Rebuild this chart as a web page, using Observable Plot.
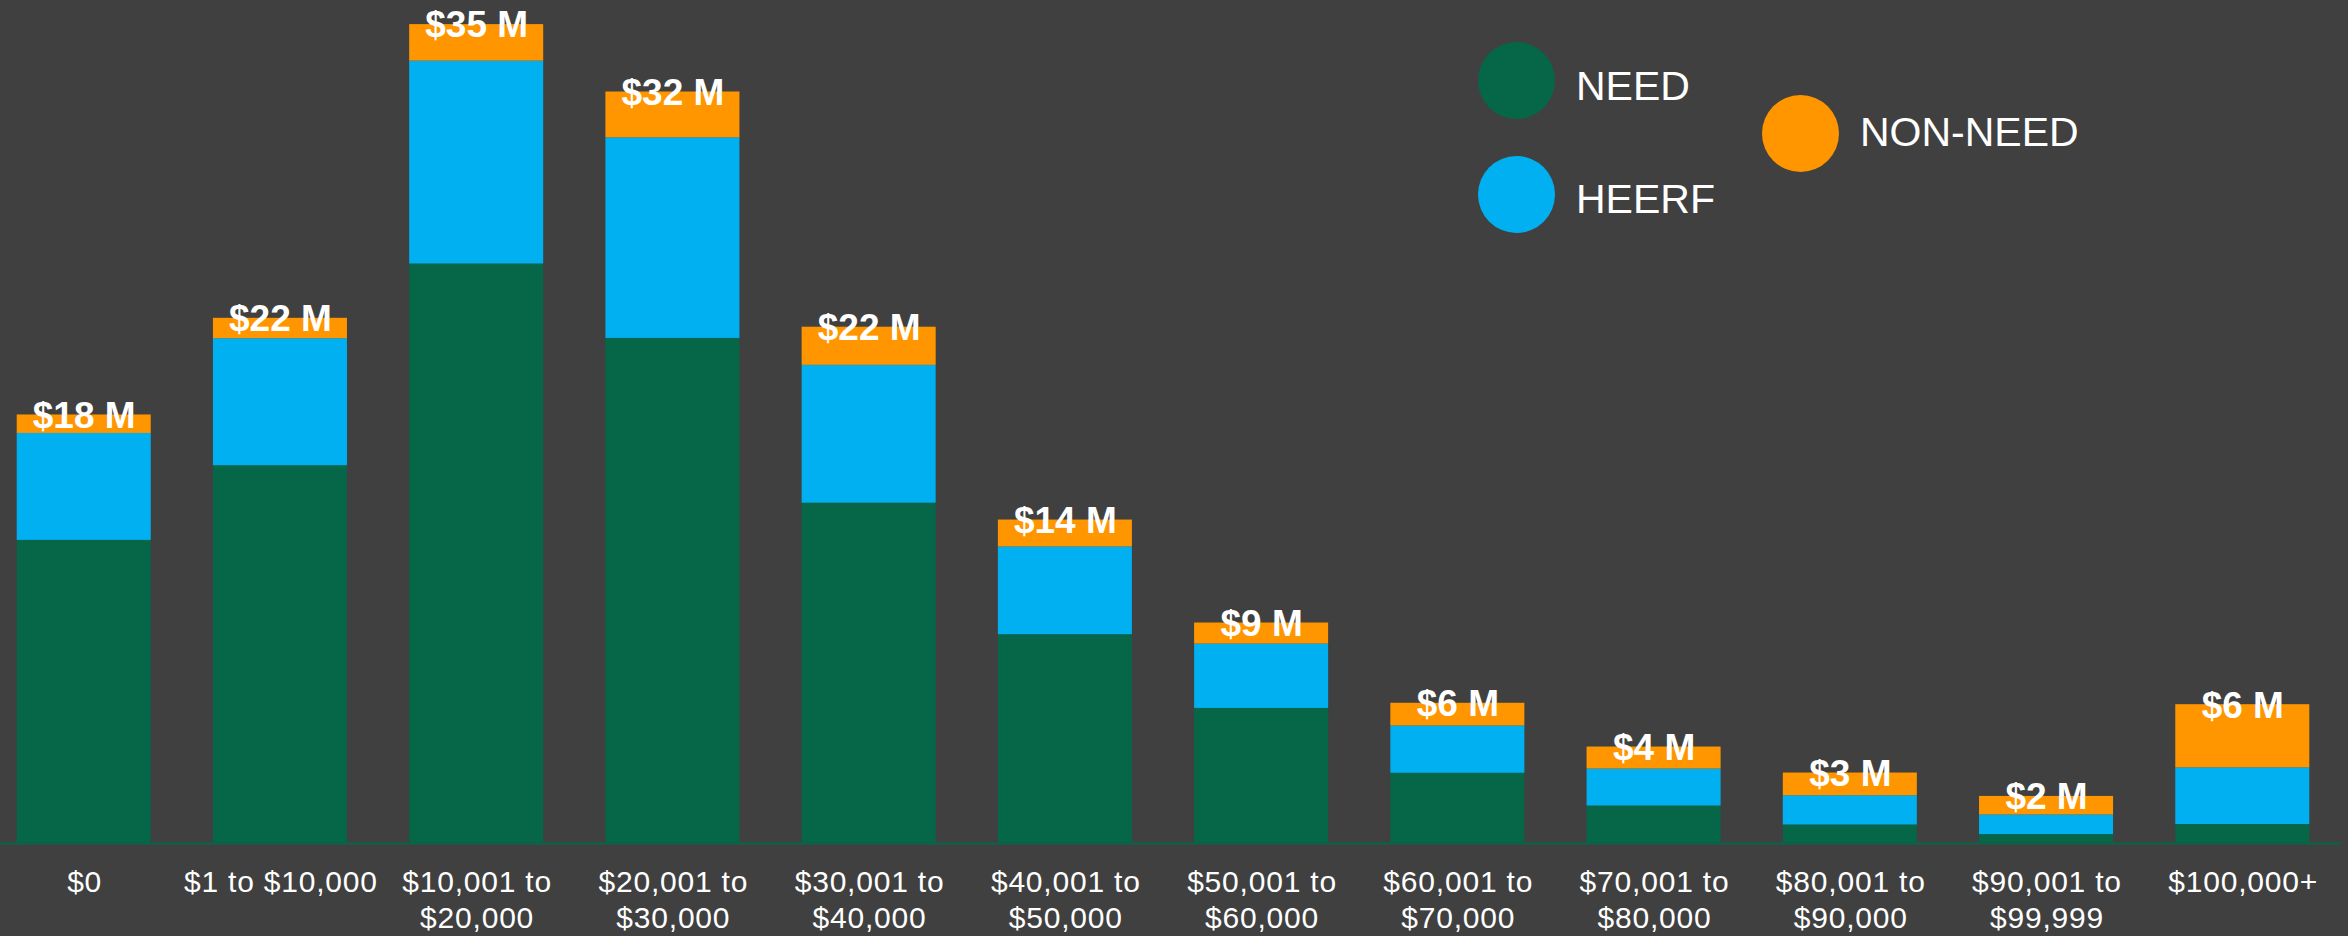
<!DOCTYPE html>
<html>
<head>
<meta charset="utf-8">
<script src="https://cdn.jsdelivr.net/npm/d3@7"></script>
<script src="https://cdn.jsdelivr.net/npm/@observablehq/plot@0.6"></script>
<style>
  html, body { margin: 0; padding: 0; background: #404040; }
  #wrap { position: relative; width: 2348px; height: 936px; overflow: hidden; }
  #legend { position: absolute; left: 0; top: 0; pointer-events: none; }
  .lg-dot { position: absolute; width: 77px; height: 77px; border-radius: 50%; }
  .lg-txt { position: absolute; color: #ffffff; font-family: "Liberation Sans", Arial, sans-serif; font-size: 41px; line-height: 1; white-space: nowrap; }
  .xlab text { letter-spacing: 0.8px; }
</style>
</head>
<body>
<div id="wrap"><div id="chart"></div><div id="legend"></div></div>
<script>
// Income brackets (categories) and their axis tick labels
const categories = ["$0", "$1 to $10,000", "$10,001 to $20,000", "$20,001 to $30,000", "$30,001 to $40,000",
  "$40,001 to $50,000", "$50,001 to $60,000", "$60,001 to $70,000", "$70,001 to $80,000",
  "$80,001 to $90,000", "$90,001 to $99,999", "$100,000+"];
const tickLabels = ["$0", "$1 to $10,000", "$10,001 to\n$20,000", "$20,001 to\n$30,000", "$30,001 to\n$40,000",
  "$40,001 to\n$50,000", "$50,001 to\n$60,000", "$60,001 to\n$70,000", "$70,001 to\n$80,000",
  "$80,001 to\n$90,000", "$90,001 to\n$99,999", "$100,000+"];

// Series values, $ millions
const need    = [12.93, 16.12, 24.74, 21.56, 14.52, 8.90, 5.75, 2.98, 1.58, 0.77, 0.36, 0.79];
const heerf   = [4.57, 5.43, 8.67, 8.57, 5.89, 3.75, 2.75, 2.02, 1.58, 1.25, 0.84, 2.42];
const nonNeed = [0.79, 0.87, 1.56, 1.96, 1.63, 1.15, 0.90, 0.97, 0.94, 0.97, 0.79, 2.70];

const seriesNames = ["NEED", "HEERF", "NON-NEED"];
const seriesColors = ["#066648", "#00B0F0", "#FF9600"];

// Build tidy table for Plot
const seriesValues = [need, heerf, nonNeed];
const rows = [];
seriesNames.forEach((s, si) => {
  categories.forEach((c, ci) => rows.push({category: c, series: s, value: seriesValues[si][ci]}));
});
const totals = categories.map((c, i) => ({
  category: c,
  total: need[i] + heerf[i] + nonNeed[i],
  label: "$" + Math.round(need[i] + heerf[i] + nonNeed[i]) + " M"
}));
const axisRows = categories.map((c, i) => ({category: c, label: tickLabels[i]}));

const chart = Plot.plot({
  width: 2348,
  height: 936,
  marginLeft: 16.7,
  marginRight: 38.7,
  marginTop: 0,
  marginBottom: 93.5,
  style: {background: "#404040", color: "#ffffff", fontFamily: "'Liberation Sans', Arial, sans-serif", overflow: "visible"},
  x: {domain: categories, paddingInner: 0.317, paddingOuter: 0, round: false, axis: null},
  y: {domain: [0, 36], axis: null},
  color: {domain: seriesNames, range: seriesColors},
  marks: [
    Plot.barY(rows, Plot.stackY({order: seriesNames}, {x: "category", y: "value", fill: "series"})),
    Plot.ruleY([0], {stroke: "#066648", strokeWidth: 2, dy: 0.5, insetLeft: -16.7, insetRight: -31}),
    Plot.text(totals, {x: "category", y: "total", text: "label", fill: "#ffffff", fontWeight: "bold",
      fontSize: 37, lineAnchor: "middle", dy: 1}),
    Plot.text(axisRows, {x: "category", text: "label", frameAnchor: "bottom", lineAnchor: "top",
      fill: "#ffffff", fontSize: 30, lineHeight: 1.223, dy: 22.5, dx: 0.4, className: "xlab"})
  ]
});
document.getElementById("chart").appendChild(chart);

// Legend overlay
const legendLayout = [
  {dot: [1477.5, 41.5], text: [1576, 72]},
  {dot: [1477.5, 155.5], text: [1576, 185]},
  {dot: [1761.5, 95], text: [1860, 118]}
];
const legend = document.getElementById("legend");
seriesNames.forEach((s, i) => {
  const d = document.createElement("div");
  d.className = "lg-dot";
  d.style.left = legendLayout[i].dot[0] + "px";
  d.style.top = legendLayout[i].dot[1] + "px";
  d.style.background = seriesColors[i];
  legend.appendChild(d);
  const t = document.createElement("div");
  t.className = "lg-txt";
  t.textContent = s;
  t.style.left = legendLayout[i].text[0] + "px";
  t.style.top = (legendLayout[i].text[1] - 6) + "px";
  legend.appendChild(t);
});
</script>
</body>
</html>
